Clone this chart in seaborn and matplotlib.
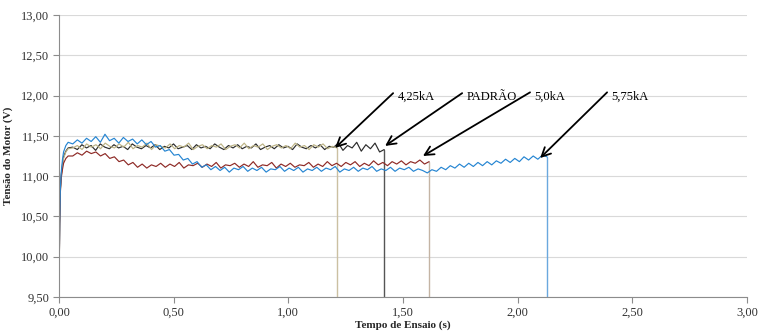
import numpy as np
import pandas as pd
import matplotlib
matplotlib.use("Agg")
import matplotlib.pyplot as plt
import seaborn as sns

# series names (same order as the arrows)
series_names = ["4,25kA", "PADRÃO", "5,0kA", "5,75kA"]
series_colors = {"4,25kA": "#bcb385", "PADRÃO": "#2b2b2b", "5,0kA": "#8e2a26", "5,75kA": "#2585d2"}
drop_colors = {"4,25kA": "#cbc0a2", "PADRÃO": "#555555", "5,0kA": "#c4b4a4", "5,75kA": "#6aa8de"}
draw_order = ["PADRÃO", "4,25kA", "5,0kA", "5,75kA"]

# start-up ramp (time in s)
rise_t = [0.000, 0.003, 0.006, 0.010, 0.015, 0.020, 0.030, 0.040]
rise_v = {
    "4,25kA": [9.50, 10.40, 10.82, 11.00, 11.12, 11.22, 11.30, 11.34],
    "PADRÃO": [9.50, 10.42, 10.84, 11.02, 11.14, 11.24, 11.31, 11.35],
    "5,0kA": [9.50, 10.40, 10.80, 10.98, 11.08, 11.16, 11.22, 11.25],
    "5,75kA": [9.50, 10.45, 10.85, 11.05, 11.20, 11.30, 11.38, 11.42],
}

# end of each test (s)
end_time = {"4,25kA": 1.212, "PADRÃO": 1.418, "5,0kA": 1.614, "5,75kA": 2.128}

# voltage readings after the ramp, every ~0.02 s from 0.06 s to the end
v_425 = [11.35, 11.38, 11.33, 11.40, 11.36, 11.39, 11.34, 11.41, 11.37, 11.35,
         11.40, 11.36, 11.42, 11.34, 11.38, 11.36, 11.41, 11.33, 11.39, 11.37,
         11.35, 11.40, 11.34, 11.38, 11.36, 11.41, 11.33, 11.37, 11.39, 11.34,
         11.38, 11.36, 11.40, 11.33, 11.37, 11.39, 11.35, 11.41, 11.34, 11.38,
         11.36, 11.40, 11.33, 11.37, 11.39, 11.35, 11.38, 11.34, 11.41, 11.36,
         11.38, 11.33, 11.39, 11.36, 11.40, 11.34, 11.37, 11.35]
v_padrao = [11.36, 11.33, 11.39, 11.35, 11.38, 11.32, 11.40, 11.36, 11.34, 11.39,
            11.35, 11.37, 11.33, 11.40, 11.36, 11.34, 11.38, 11.35, 11.39, 11.33,
            11.37, 11.35, 11.40, 11.34, 11.36, 11.38, 11.33, 11.39, 11.35, 11.37,
            11.34, 11.40, 11.36, 11.33, 11.38, 11.35, 11.39, 11.34, 11.37, 11.35,
            11.40, 11.33, 11.36, 11.38, 11.34, 11.39, 11.35, 11.37, 11.33, 11.40,
            11.36, 11.34, 11.38, 11.35, 11.39, 11.33, 11.37, 11.36, 11.41, 11.32,
            11.38, 11.35, 11.42, 11.31, 11.39, 11.34, 11.41, 11.30, 11.33]
v_50 = [11.25, 11.29, 11.26, 11.31, 11.28, 11.30, 11.25, 11.28, 11.22, 11.24,
        11.18, 11.20, 11.14, 11.17, 11.11, 11.15, 11.10, 11.14, 11.12, 11.16,
        11.11, 11.15, 11.12, 11.17, 11.10, 11.14, 11.13, 11.16, 11.11, 11.15,
        11.12, 11.17, 11.10, 11.14, 11.13, 11.16, 11.11, 11.15, 11.12, 11.18,
        11.11, 11.14, 11.13, 11.17, 11.10, 11.15, 11.12, 11.16, 11.11, 11.14,
        11.13, 11.17, 11.11, 11.15, 11.12, 11.18, 11.13, 11.16, 11.12, 11.17,
        11.14, 11.18, 11.12, 11.16, 11.13, 11.19, 11.14, 11.17, 11.13, 11.18,
        11.15, 11.19, 11.14, 11.18, 11.16, 11.20, 11.15, 11.18]
v_575 = [11.40, 11.45, 11.41, 11.47, 11.43, 11.49, 11.42, 11.52, 11.44, 11.47,
         11.41, 11.48, 11.43, 11.46, 11.40, 11.45, 11.39, 11.43, 11.36, 11.38,
         11.31, 11.33, 11.26, 11.27, 11.20, 11.22, 11.15, 11.18, 11.11, 11.14,
         11.08, 11.12, 11.07, 11.11, 11.05, 11.10, 11.08, 11.12, 11.06, 11.10,
         11.07, 11.11, 11.05, 11.09, 11.08, 11.12, 11.06, 11.10, 11.07, 11.11,
         11.05, 11.09, 11.07, 11.11, 11.06, 11.10, 11.08, 11.12, 11.05, 11.09,
         11.07, 11.11, 11.06, 11.10, 11.08, 11.12, 11.06, 11.09, 11.07, 11.11,
         11.06, 11.10, 11.08, 11.11, 11.06, 11.09, 11.07, 11.04, 11.08, 11.06,
         11.11, 11.08, 11.13, 11.10, 11.15, 11.11, 11.16, 11.12, 11.17, 11.13,
         11.18, 11.14, 11.19, 11.16, 11.21, 11.17, 11.22, 11.18, 11.24, 11.20,
         11.25, 11.21, 11.26, 11.24]
main_v = {"4,25kA": v_425, "PADRÃO": v_padrao, "5,0kA": v_50, "5,75kA": v_575}

# arrow annotations: head (on curve) and tail (near label)
arrow_head_x = [1.204, 1.422, 1.587, 2.098]
arrow_head_y = [11.35, 11.375, 11.25, 11.225]
arrow_tail_x = [1.457, 1.758, 2.054, 2.390]
arrow_tail_y = [12.03, 12.03, 12.04, 12.04]

x_ticks = [0.0, 0.5, 1.0, 1.5, 2.0, 2.5, 3.0]
y_ticks = [9.5, 10.0, 10.5, 11.0, 11.5, 12.0, 12.5, 13.0]
y_floor = 9.5

rows, drops = [], []
for name in draw_order:
    vals = main_v[name]
    t_main = np.linspace(0.06, end_time[name], len(vals))
    ts = list(rise_t) + list(t_main)
    vs = list(rise_v[name]) + list(vals)
    for i, (t, v) in enumerate(zip(ts, vs)):
        rows.append({"serie": name, "idx": i, "t": t, "v": v})
    # drop to the axis floor at the end of the test
    drops.append({"serie": name, "t": end_time[name], "v": vals[-1]})
    drops.append({"serie": name, "t": end_time[name], "v": y_floor})
df = pd.DataFrame(rows)
df_drop = pd.DataFrame(drops)

sns.set_theme(style="white")
plt.rcParams["font.family"] = ["Liberation Serif", "DejaVu Serif"]

fig, ax = plt.subplots(figsize=(7.61, 3.31), dpi=100)
fig.subplots_adjust(left=0.0775, right=0.9816, top=0.9547, bottom=0.1027)

sns.lineplot(data=df_drop, x="t", y="v", hue="serie", hue_order=draw_order,
             palette=drop_colors, estimator=None, sort=False,
             linewidth=1.0, legend=False, ax=ax)
sns.lineplot(data=df, x="t", y="v", hue="serie", hue_order=draw_order,
             palette=series_colors, estimator=None, sort=False,
             linewidth=0.85, legend=False, ax=ax)

for lab, hx, hy, tx, ty in zip(series_names, arrow_head_x, arrow_head_y,
                               arrow_tail_x, arrow_tail_y):
    ax.annotate("", xy=(hx, hy), xytext=(tx, ty),
                arrowprops=dict(arrowstyle="->", color="black", lw=1.3,
                                mutation_scale=16, shrinkA=0, shrinkB=0))
    ax.text(tx + 0.018, ty - 0.05, lab, fontsize=9, ha="left", va="center",
            color="black")

fmt = lambda v: f"{v:.2f}".replace(".", ",")
ax.set_xlim(0, 3)
ax.set_ylim(9.5, 13)
ax.set_xticks(x_ticks)
ax.set_xticklabels([fmt(v) for v in x_ticks])
ax.set_yticks(y_ticks)
ax.set_yticklabels([fmt(v) for v in y_ticks])
ax.tick_params(axis="both", labelsize=9, colors="#333333", length=4,
               width=0.8, direction="out", pad=3)
ax.tick_params(axis="x", bottom=True, color="#8c8c8c")
ax.tick_params(axis="y", left=True, color="#8c8c8c")

ax.yaxis.grid(True, color="#d9d9d9", linewidth=0.8)
ax.xaxis.grid(False)
ax.set_axisbelow(True)
for side in ["top", "right"]:
    ax.spines[side].set_visible(False)
for side in ["left", "bottom"]:
    ax.spines[side].set_color("#8c8c8c")
    ax.spines[side].set_linewidth(0.8)

ax.set_xlabel("Tempo de Ensaio (s)", fontsize=8, fontweight="bold", labelpad=1)
ax.set_ylabel("Tensão do Motor (V)", fontsize=8, fontweight="bold", labelpad=6)

fig.savefig("out.png", dpi=100)
